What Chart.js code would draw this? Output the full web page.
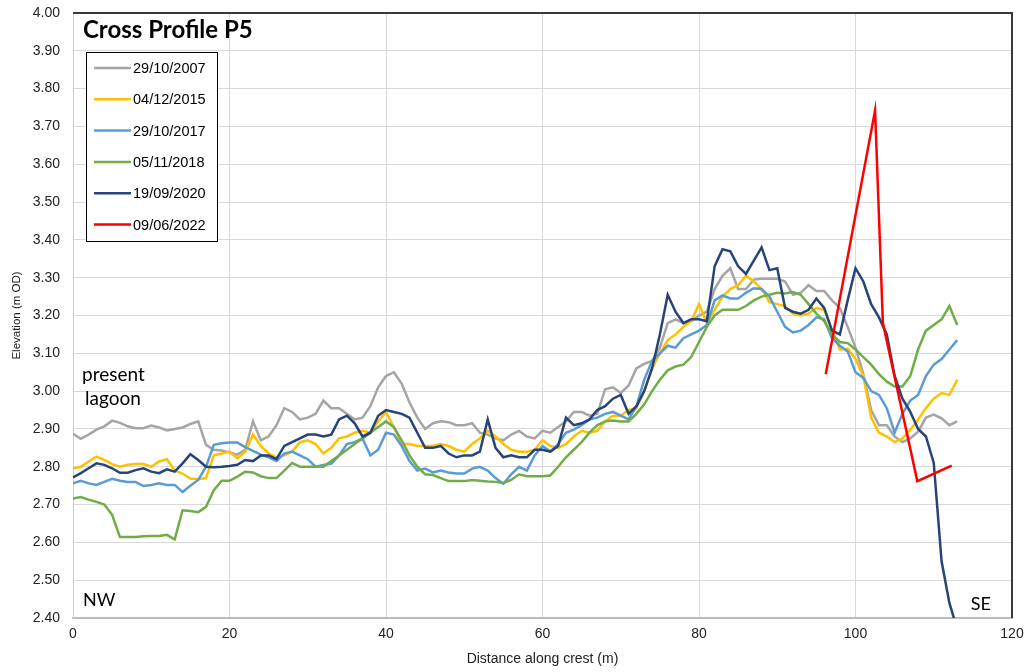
<!DOCTYPE html>
<html>
<head>
<meta charset="utf-8">
<script src="https://cdn.jsdelivr.net/npm/chart.js@4.4.0/dist/chart.umd.min.js"></script>
<style>
  html, body { margin: 0; padding: 0; background: #fff; }
</style>
</head>
<body>
<canvas id="chartProfile" width="1029" height="672"></canvas>
<script>
// distance along crest (m)
const distance = [
  0, 1, 2, 3, 4, 5, 6, 7, 8, 9, 10, 11, 12, 13, 14, 15, 16, 17, 18, 19,
  20, 21, 22, 23, 24, 25, 26, 27, 28, 29, 30, 31, 32, 33, 34, 35, 36, 37, 38, 39,
  40, 41, 42, 43, 44, 45, 46, 47, 48, 49, 50, 51, 52, 53, 54, 55, 56, 57, 58, 59,
  60, 61, 62, 63, 64, 65, 66, 67, 68, 69, 70, 71, 72, 73, 74, 75, 76, 77, 78, 79,
  80, 81, 82, 83, 84, 85, 86, 87, 88, 89, 90, 91, 92, 93, 94, 95, 96, 97, 98, 99,
  100, 101, 102, 103, 104, 105, 106, 107, 108, 109, 110, 111, 112, 113
];

// elevations (m OD)
const elev2007 = [
  2.887, 2.874, 2.885, 2.898, 2.907, 2.922, 2.916, 2.907, 2.902, 2.902,
  2.909, 2.904, 2.896, 2.900, 2.904, 2.913, 2.920, 2.858, 2.845, 2.843,
  2.838, 2.832, 2.845, 2.920, 2.870, 2.880, 2.910, 2.955, 2.945, 2.925,
  2.930, 2.940, 2.975, 2.955, 2.955, 2.940, 2.925, 2.930, 2.960, 3.010,
  3.040, 3.050, 3.020, 2.970, 2.930, 2.900, 2.915, 2.920, 2.918, 2.910,
  2.910, 2.915, 2.890, 2.885, 2.875, 2.870, 2.885, 2.895, 2.880, 2.875,
  2.895, 2.890, 2.905, 2.920, 2.945, 2.945, 2.935, 2.940, 3.005, 3.010,
  2.995, 3.015, 3.060, 3.072, 3.080, 3.115, 3.180, 3.190, 3.180, 3.185,
  3.200, 3.210, 3.270, 3.305, 3.325, 3.270, 3.270, 3.295, 3.297, 3.297,
  3.297, 3.290, 3.255, 3.260, 3.280, 3.265, 3.265, 3.240, 3.220, 3.170,
  3.115, 3.045, 2.950, 2.910, 2.910, 2.880, 2.865, 2.875, 2.893, 2.930,
  2.938, 2.928, 2.910, 2.920
];
const elev2015 = [
  2.795, 2.800, 2.814, 2.827, 2.818, 2.807, 2.800, 2.805, 2.807, 2.807,
  2.800, 2.814, 2.820, 2.790, 2.782, 2.769, 2.767, 2.770, 2.830, 2.835,
  2.840, 2.822, 2.840, 2.885, 2.855, 2.835, 2.825, 2.830, 2.840, 2.865,
  2.870, 2.860, 2.835, 2.850, 2.875, 2.880, 2.890, 2.895, 2.890, 2.920,
  2.945, 2.905, 2.860, 2.860, 2.855, 2.855, 2.855, 2.860, 2.855, 2.845,
  2.840, 2.860, 2.875, 2.895, 2.880, 2.860, 2.845, 2.840, 2.840, 2.845,
  2.870, 2.855, 2.850, 2.860, 2.880, 2.895, 2.890, 2.895, 2.920, 2.935,
  2.935, 2.950, 2.955, 3.000, 3.060, 3.100, 3.135, 3.150, 3.170, 3.185,
  3.230, 3.180, 3.215, 3.250, 3.270, 3.280, 3.305, 3.290, 3.270, 3.235,
  3.230, 3.225, 3.205, 3.200, 3.205, 3.220, 3.215, 3.160, 3.110, 3.112,
  3.085, 3.040, 2.930, 2.890, 2.880, 2.865, 2.875, 2.897, 2.925, 2.955,
  2.980, 2.995, 2.990, 3.030
];
const elev2017 = [
  2.756, 2.763, 2.756, 2.752, 2.760, 2.768, 2.763, 2.760, 2.760, 2.749,
  2.752, 2.756, 2.752, 2.752, 2.733, 2.750, 2.765, 2.800, 2.858, 2.862,
  2.864, 2.864, 2.852, 2.842, 2.832, 2.825, 2.815, 2.835, 2.840, 2.830,
  2.820, 2.800, 2.805, 2.808, 2.830, 2.860, 2.865, 2.875, 2.830, 2.845,
  2.890, 2.885, 2.855, 2.815, 2.790, 2.795, 2.785, 2.790, 2.785, 2.782,
  2.782, 2.795, 2.800, 2.790, 2.770, 2.755, 2.780, 2.800, 2.790, 2.830,
  2.855, 2.840, 2.860, 2.890, 2.898, 2.910, 2.925, 2.930, 2.940, 2.945,
  2.935, 2.925, 2.960, 3.030, 3.080, 3.100, 3.120, 3.115, 3.140, 3.150,
  3.160, 3.175, 3.240, 3.253, 3.245, 3.245, 3.260, 3.272, 3.270, 3.250,
  3.210, 3.170, 3.155, 3.160, 3.175, 3.195, 3.190, 3.140, 3.120, 3.105,
  3.050, 3.035, 3.000, 2.990, 2.955, 2.890, 2.940, 2.975, 2.990, 3.040,
  3.070, 3.085, 3.110, 3.135
];
const elev2018 = [
  2.716, 2.720, 2.713, 2.707, 2.700, 2.673, 2.614, 2.614, 2.614, 2.616,
  2.617, 2.617, 2.620, 2.608, 2.685, 2.683, 2.680, 2.694, 2.738, 2.763,
  2.763, 2.774, 2.787, 2.785, 2.775, 2.770, 2.770, 2.790, 2.810, 2.800,
  2.800, 2.800, 2.800, 2.815, 2.830, 2.845, 2.860, 2.875, 2.890, 2.905,
  2.920, 2.905, 2.870, 2.830, 2.800, 2.780, 2.778, 2.770, 2.762, 2.762,
  2.762, 2.765, 2.763, 2.761, 2.760, 2.757, 2.765, 2.780, 2.775, 2.775,
  2.775, 2.777, 2.800, 2.825, 2.845, 2.865, 2.890, 2.910, 2.920, 2.922,
  2.920, 2.920, 2.940, 2.965, 3.000, 3.030, 3.055, 3.065, 3.070, 3.090,
  3.130, 3.170, 3.200, 3.215, 3.215, 3.215, 3.225, 3.240, 3.250, 3.255,
  3.260, 3.258, 3.262, 3.255, 3.230, 3.205, 3.185, 3.150, 3.130, 3.127,
  3.110, 3.090, 3.070, 3.045, 3.025, 3.012, 3.012, 3.040, 3.110, 3.160,
  3.175, 3.190, 3.225, 3.175
];
const elev2020 = [
  2.772, 2.783, 2.796, 2.809, 2.805, 2.796, 2.784, 2.784, 2.791, 2.796,
  2.787, 2.783, 2.793, 2.787, 2.809, 2.833, 2.818, 2.800, 2.799, 2.800,
  2.802, 2.805, 2.818, 2.815, 2.830, 2.830, 2.820, 2.855, 2.865, 2.875,
  2.885, 2.885, 2.880, 2.885, 2.925, 2.935, 2.915, 2.880, 2.890, 2.935,
  2.950, 2.945, 2.940, 2.930, 2.890, 2.850, 2.850, 2.855, 2.835, 2.825,
  2.830, 2.830, 2.840, 2.925, 2.850, 2.825, 2.830, 2.825, 2.825, 2.845,
  2.845, 2.840, 2.855, 2.930, 2.910, 2.915, 2.925, 2.950, 2.960, 2.980,
  2.990, 2.940, 2.960, 3.000, 3.060, 3.150, 3.255, 3.210, 3.180, 3.190,
  3.190, 3.185, 3.330, 3.375, 3.370, 3.330, 3.310, 3.345, 3.380, 3.320,
  3.325, 3.220, 3.210, 3.205, 3.215, 3.245, 3.220, 3.160, 3.150, 3.240,
  3.325, 3.290, 3.230, 3.195, 3.150, 3.040, 2.980, 2.945, 2.900, 2.880,
  2.810, 2.550, 2.440, 2.370
];

// 2022 survey: only a few points
const distance2022 = [96.2, 102.5, 103.5, 107.9, 112.3];
const elev2022 = [3.045, 3.742, 3.180, 2.762, 2.803];

const surveyDates = ["29/10/2007", "04/12/2015", "29/10/2017", "05/11/2018", "19/09/2020", "09/06/2022"];
const seriesColors = ["#a5a5a5", "#ffc000", "#5b9bd5", "#70ad47", "#264478", "#ff0000"];

function toPoints(xs, ys) {
  return xs.map((x, i) => ({ x: x, y: ys[i] }));
}

const profiles = [
  toPoints(distance, elev2007),
  toPoints(distance, elev2015),
  toPoints(distance, elev2017),
  toPoints(distance, elev2018),
  toPoints(distance, elev2020),
  toPoints(distance2022, elev2022),
];

const noteFont = "Lato, Carlito, sans-serif";

// title, legend box, notes and the dark top/right frame
const overlayPlugin = {
  id: "overlay",
  afterDraw(chart) {
    const ctx = chart.ctx;
    const a = chart.chartArea;
    ctx.save();

    ctx.strokeStyle = "#3a3a3a";
    ctx.lineWidth = 2;
    ctx.beginPath();
    ctx.moveTo(a.left, a.top);
    ctx.lineTo(a.right, a.top);
    ctx.lineTo(a.right, a.bottom);
    ctx.stroke();

    ctx.fillStyle = "#000";
    ctx.textBaseline = "alphabetic";
    ctx.textAlign = "left";
    ctx.font = "bold 24px " + noteFont;
    ctx.fillText("Cross Profile P5", a.left + 10, a.top + 25);

    ctx.font = "19px " + noteFont;
    ctx.fillText("present", a.left + 9, 381);
    ctx.fillText("lagoon", a.left + 12, 405);
    ctx.font = "18px " + noteFont;
    ctx.fillText("NW", a.left + 10, a.bottom - 12);
    ctx.textAlign = "right";
    ctx.fillText("SE", a.right - 21, a.bottom - 8);

    // legend
    const bx = a.left + 13, by = a.top + 39;
    ctx.fillStyle = "#fff";
    ctx.fillRect(bx, by, 131, 189);
    ctx.strokeStyle = "#000";
    ctx.lineWidth = 1;
    ctx.strokeRect(bx + 0.5, by + 0.5, 131, 189);
    ctx.font = "14.5px 'Liberation Sans', Arial, sans-serif";
    ctx.textAlign = "left";
    ctx.textBaseline = "middle";
    chart.data.datasets.forEach((ds, i) => {
      const y = by + 16 + i * 31.3;
      ctx.strokeStyle = ds.borderColor;
      ctx.lineWidth = 2.5;
      ctx.beginPath();
      ctx.moveTo(bx + 8, y);
      ctx.lineTo(bx + 45, y);
      ctx.stroke();
      ctx.fillStyle = "#000";
      ctx.fillText(ds.label, bx + 47, y + 1);
    });
    ctx.restore();
  }
};

const datasets = profiles.map((pts, i) => ({
  label: surveyDates[i],
  data: pts,
  borderColor: seriesColors[i],
  backgroundColor: seriesColors[i],
  borderWidth: 2.5,
  pointRadius: 0,
  tension: 0,
  order: profiles.length - i,
}));

const tickFont = { family: "'Liberation Sans', Arial, sans-serif", size: 14 };

new Chart(document.getElementById("chartProfile"), {
  type: "line",
  data: { datasets: datasets },
  options: {
    responsive: false,
    animation: false,
    layout: { padding: { top: 13, right: 17, left: 0, bottom: 0 } },
    plugins: {
      legend: { display: false },
      tooltip: { enabled: false },
    },
    scales: {
      x: {
        type: "linear",
        min: 0,
        max: 120,
        ticks: { stepSize: 20, color: "#222", font: tickFont, padding: 8, maxRotation: 0 },
        grid: { color: "#d9d9d9", drawTicks: false },
        border: { color: "#bdbdbd", width: 2 },
        title: {
          display: true,
          text: "Distance along crest (m)",
          color: "#222",
          font: { family: "'Liberation Sans', Arial, sans-serif", size: 14 },
          padding: { top: 0, bottom: 4 },
        },
        afterFit(scale) {
          scale.height = 54;
          scale.paddingLeft = 0;
          scale.paddingRight = 0;
        },
      },
      y: {
        min: 2.4,
        max: 4.0,
        ticks: {
          stepSize: 0.1,
          color: "#222",
          font: tickFont,
          padding: 13,
          callback: (v) => Number(v).toFixed(2),
        },
        grid: { color: "#d9d9d9", drawTicks: false },
        border: { color: "#d0d0d0", width: 1 },
        title: {
          display: true,
          text: "Elevation (m OD)",
          color: "#222",
          font: { family: "'Liberation Sans', Arial, sans-serif", size: 11.5 },
          padding: { top: 10, bottom: 0 },
        },
        afterFit(scale) {
          scale.width = 73;
          scale.paddingTop = 0;
          scale.paddingBottom = 0;
        },
      },
    },
  },
  plugins: [overlayPlugin],
});
</script>
</body>
</html>
